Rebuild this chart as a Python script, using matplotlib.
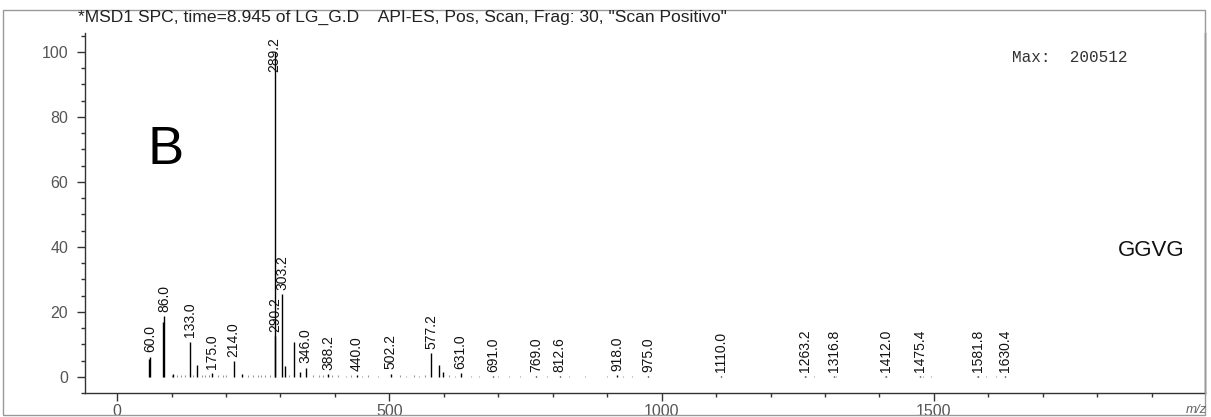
import numpy as np
import matplotlib
matplotlib.use("Agg")
import matplotlib.pyplot as plt
from matplotlib.patches import Rectangle
from matplotlib.ticker import MultipleLocator

# ---- data ----
labeled_mz = [60.0, 86.0, 133.0, 175.0, 214.0, 289.2, 290.2, 303.2, 346.0, 388.2,
              440.0, 502.2, 577.2, 631.0, 691.0, 769.0, 812.6, 918.0, 975.0, 1110.0,
              1263.2, 1316.8, 1412.0, 1475.4, 1581.8, 1630.4]
labeled_int = [6.2, 18.8, 10.8, 1.2, 4.8, 100.0, 12.5, 25.4, 2.8, 0.8,
               0.4, 1.0, 7.3, 1.2, 0.3, 0.3, 0.3, 0.4, 0.3, 0.3,
               0.3, 0.3, 0.3, 0.3, 0.3, 0.3]
labeled_text = ["60.0", "86.0", "133.0", "175.0", "214.0", "289.2", "290.2", "303.2",
                "346.0", "388.2", "440.0", "502.2", "577.2", "631.0", "691.0", "769.0",
                "812.6", "918.0", "975.0", "1110.0", "1263.2", "1316.8", "1412.0",
                "1475.4", "1581.8", "1630.4"]

other_mz = [58.0, 84.0, 103.0, 147.0, 230.0, 309.0, 324.5, 335.0, 590.5, 598.0]
other_int = [5.5, 17.0, 1.0, 3.6, 1.0, 3.3, 10.8, 1.5, 3.6, 1.5]

noise_mz = [100, 110, 118, 125, 140, 155, 162, 168, 185, 195, 200, 240, 250, 258,
            265, 272, 280, 315, 360, 370, 378, 395, 405, 420, 430, 450, 460, 480,
            520, 530, 545, 555, 565, 610, 620, 650, 665, 700, 720, 740, 790, 830,
            860, 900, 930, 945, 1265, 1280, 1320, 1410, 1480, 1495, 1580, 1595, 1615]
noise_int = [0.5, 0.4, 0.6, 0.4, 0.5, 0.4, 0.6, 0.5, 0.4, 0.5, 0.4, 0.4, 0.5, 0.4,
             0.5, 0.6, 0.4, 0.6, 0.5, 0.4, 0.6, 0.4, 0.4, 0.3, 0.4, 0.3, 0.4, 0.3,
             0.4, 0.3, 0.4, 0.3, 0.4, 0.4, 0.3, 0.3, 0.3, 0.3, 0.3, 0.3, 0.3, 0.3,
             0.3, 0.3, 0.3, 0.3, 0.3, 0.3, 0.3, 0.3, 0.3, 0.3, 0.3, 0.3, 0.3]

title_text = '*MSD1 SPC, time=8.945 of LG_G.D    API-ES, Pos, Scan, Frag: 30, "Scan Positivo"'
max_text = "Max:  200512"
panel_letter = "B"
sample_name = "GGVG"

plt.rcParams['font.family'] = ['Liberation Sans', 'DejaVu Sans']

W, H = 1211, 417
fig = plt.figure(figsize=(W / 100, H / 100), dpi=100)
ax = fig.add_axes([85 / W, 1 - 393 / H, (1205 - 85) / W, (393 - 33) / H])
ax.set_xlim(-59, 1998)
ax.set_ylim(-5, 105.8)

ax.vlines(noise_mz, 0, noise_int, color='#999999', lw=0.8)
ax.vlines(other_mz, 0, other_int, color='black', lw=1.0)
ax.vlines(labeled_mz, 0, labeled_int, color='black', lw=1.0)

lab_y = np.minimum(np.array(labeled_int), 92.5)
for mz, y, t in zip(labeled_mz, lab_y, labeled_text):
    ax.annotate(t, xy=(mz, y), xytext=(0, 3), textcoords='offset points',
                rotation=90, ha='center', va='bottom', fontsize=10,
                color='#111111')

ax.spines['top'].set_visible(False)
for s in ['left', 'bottom', 'right']:
    ax.spines[s].set_color('#333333')
    ax.spines[s].set_linewidth(1.0)

ax.xaxis.set_major_locator(MultipleLocator(500))
ax.xaxis.set_minor_locator(MultipleLocator(100))
ax.yaxis.set_major_locator(MultipleLocator(20))
ax.yaxis.set_minor_locator(MultipleLocator(5))
ax.tick_params(axis='both', which='major', direction='out', length=6,
               width=1, color='#333333', labelsize=11.5, labelcolor='#555555')
ax.tick_params(axis='both', which='minor', direction='out', length=3,
               width=1, color='#333333')
ax.tick_params(axis='y', which='major', pad=6)
ax.tick_params(axis='x', which='major', pad=2)

fig.text(78 / W, 1 - 17 / H, title_text, ha='left', va='center',
         fontsize=12.6, color='#222222')
ax.text((1012 - 85) / 1120, (393 - 58) / 360, max_text, transform=ax.transAxes,
        ha='left', va='center', fontsize=11.5, family='Liberation Mono',
        color='#333333')
fig.text(148 / W, 1 - 150 / H, panel_letter, ha='left', va='center',
         fontsize=39, color='black')
fig.text(1118 / W, 1 - 250 / H, sample_name, ha='left', va='center',
         fontsize=16, color='#111111')
fig.text(1186 / W, 1 - 410 / H, "m/z", ha='left', va='center',
         fontsize=9.5, style='italic', color='#666666')

fig.add_artist(Rectangle((3 / W, 2 / H), (1205 - 3) / W, (415 - 10) / H,
                         transform=fig.transFigure, fill=False,
                         edgecolor='#999999', lw=1.0))

fig.savefig('out.png', dpi=100)
